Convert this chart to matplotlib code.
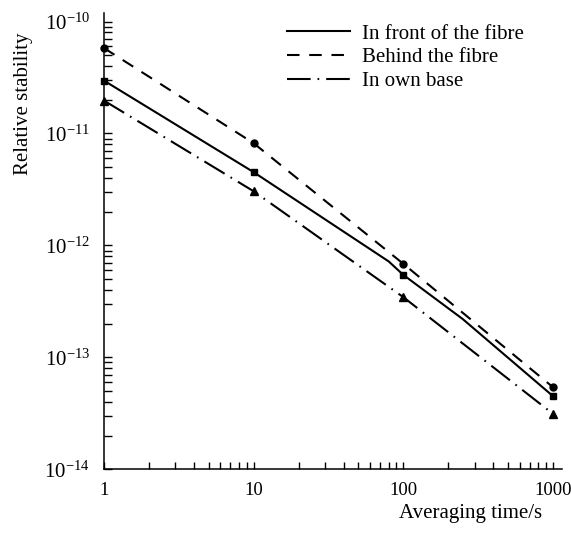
import numpy as np
import matplotlib
matplotlib.use('Agg')
import matplotlib.pyplot as plt
from matplotlib.ticker import LogLocator, FixedLocator, FixedFormatter, NullFormatter

plt.rcParams['font.family'] = ['Liberation Serif', 'DejaVu Serif']
plt.rcParams['mathtext.fontset'] = 'custom'
plt.rcParams['mathtext.rm'] = 'Liberation Serif'
plt.rcParams['mathtext.it'] = 'Liberation Serif:italic'
plt.rcParams['lines.scale_dashes'] = False

# measured points (markers)
tau = [1, 10, 100, 1000]
front = [2.97e-11, 4.52e-12, 5.47e-13, 4.52e-14]
behind = [5.8e-11, 8.2e-12, 6.87e-13, 5.43e-14]
own = [1.97e-11, 3.05e-12, 3.46e-13, 3.14e-14]

# drawn curve for the solid line has two slight knees
front_line_x = [1, 10, 80, 100, 250, 1000]
front_line_y = [2.97e-11, 4.52e-12, 7.2e-13, 5.47e-13, 2.2e-13, 4.52e-14]

xticks = [1, 10, 100, 1000]
xticklabels = ['1', '10', '100', '1000']
yticks = [1e-14, 1e-13, 1e-12, 1e-11, 1e-10]
yticklabels = ['$10^{-14}$', '$10^{-13}$', '$10^{-12}$', '$10^{-11}$', '$10^{-10}$']

fig = plt.figure(figsize=(5.71, 5.38), dpi=100)
ax = fig.add_axes([0.182, 0.1277, 0.802, 0.8487])

ax.plot(front_line_x, front_line_y, color='black', lw=1.5, ls='-',
        label='In front of the fibre')
ax.plot(tau, behind, color='black', lw=1.5, ls=(0, (9, 7)),
        label='Behind the fibre')
ax.plot(tau, own, color='black', lw=1.5, ls=(0, (17, 5, 1.2, 5)),
        label='In own base')

ax.plot(tau, front, ls='none', marker='s', ms=5, color='black', clip_on=False)
ax.plot(tau, behind, ls='none', marker='o', ms=5, color='black', clip_on=False)
ax.plot(tau, own, ls='none', marker='^', ms=6, color='black', clip_on=False)

ax.set_xscale('log')
ax.set_yscale('log')
ax.set_xlim(1, 1.15e3)
ax.set_ylim(1e-14, 1.2e-10)

ax.xaxis.set_major_locator(FixedLocator(xticks))
ax.xaxis.set_major_formatter(FixedFormatter(xticklabels))
ax.xaxis.set_minor_locator(LogLocator(base=10, subs=np.arange(2, 10)))
ax.xaxis.set_minor_formatter(NullFormatter())
ax.yaxis.set_major_locator(FixedLocator(yticks))
ax.yaxis.set_major_formatter(FixedFormatter(yticklabels))
ax.yaxis.set_minor_locator(LogLocator(base=10, subs=np.arange(2, 10), numticks=10))
ax.yaxis.set_minor_formatter(NullFormatter())

for s in ['top', 'right']:
    ax.spines[s].set_visible(False)
for s in ['left', 'bottom']:
    ax.spines[s].set_linewidth(1.1)

ax.tick_params(axis='both', which='both', direction='in', width=1.0, color='black')
ax.tick_params(axis='y', which='both', length=6)
ax.tick_params(axis='x', which='both', length=5)
ax.tick_params(axis='x', labelsize=13.5, pad=9)
ax.tick_params(axis='y', labelsize=15, pad=10)

ax.set_xlabel('Averaging time/s', fontsize=15)
ax.xaxis.set_label_coords(0.80, -0.077)
ax.set_ylabel('Relative stability', fontsize=15)
ax.yaxis.set_label_coords(-0.155, 0.80)

ax.legend(loc='upper left', bbox_to_anchor=(0.40, 0.975), frameon=False,
          fontsize=15, handlelength=3.0, handletextpad=0.6, labelspacing=0.2,
          borderpad=0, borderaxespad=0)

fig.savefig('out.png', dpi=100)
